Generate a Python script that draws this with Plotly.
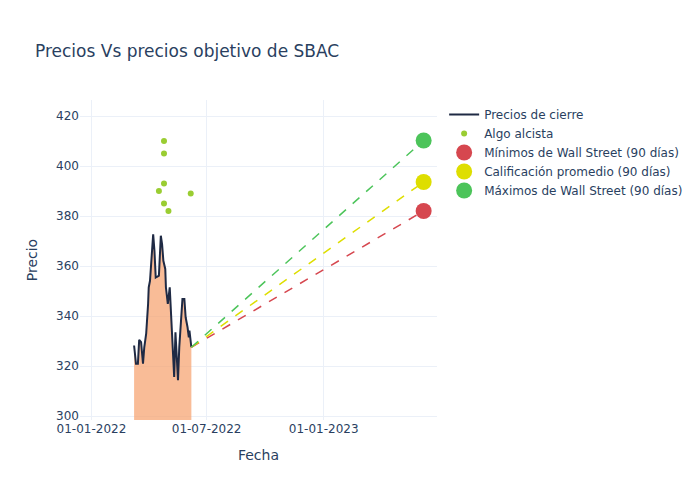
import plotly.graph_objects as go

# precios de cierre
close_dates = [
    "2022-03-09", "2022-03-12", "2022-03-15", "2022-03-17", "2022-03-20",
    "2022-03-23", "2022-03-25", "2022-03-28", "2022-03-31", "2022-04-01",
    "2022-04-03", "2022-04-06", "2022-04-08", "2022-04-10", "2022-04-12",
    "2022-04-14", "2022-04-17", "2022-04-20", "2022-04-22", "2022-04-24",
    "2022-04-27", "2022-04-28", "2022-05-01", "2022-05-04", "2022-05-06",
    "2022-05-09", "2022-05-11", "2022-05-13", "2022-05-15", "2022-05-17",
    "2022-05-19", "2022-05-22", "2022-05-24", "2022-05-27", "2022-05-29",
    "2022-06-01", "2022-06-03", "2022-06-04", "2022-06-06", "2022-06-07",
]
close_prices = [
    328.2, 320.9, 320.9, 330.5, 329.5,
    320.9, 327.5, 332.9, 344.8, 351.5,
    354.1, 367.4, 372.7, 366.1, 355.4,
    355.7, 356.1, 372.1, 368.7, 362.1,
    358.8, 351.5, 344.8, 351.5, 339.5,
    327.5, 315.6, 333.5, 324.9, 314.3,
    327.5, 338.2, 346.8, 346.8, 339.5,
    335.5, 331.5, 334.2, 327.5, 327.5,
]

# recomendaciones "Algo alcista"
bull_dates = ["2022-04-25", "2022-04-25", "2022-04-25", "2022-04-17",
              "2022-06-06", "2022-04-25", "2022-05-02"]
bull_prices = [410, 405, 393, 390, 389, 385, 382]

# precios objetivo a 90 dias
target_date = "2023-06-07"
target_names = ["Mínimos de Wall Street (90 días)",
                "Calificación promedio (90 días)",
                "Máximos de Wall Street (90 días)"]
target_prices = [382.0, 393.6, 410.2]
target_colors = ["#d6474f", "#dede00", "#4cc45a"]

last_date = close_dates[-1]
last_price = close_prices[-1]

fig = go.Figure()

# relleno bajo la curva (sin leyenda)
fig.add_scatter(
    x=close_dates, y=close_prices, mode="lines", showlegend=False,
    line={"width": 0}, fill="tozeroy", fillcolor="rgba(247,160,107,0.7)",
    hoverinfo="skip",
)
fig.add_scatter(
    x=close_dates, y=close_prices, name="Precios de cierre", mode="lines",
    line={"color": "#1f2a44", "width": 2},
)
fig.add_scatter(
    x=bull_dates, y=bull_prices, name="Algo alcista", mode="markers",
    marker={"color": "#9acd32", "size": 6},
)

for name, price, color in zip(target_names, target_prices, target_colors):
    fig.add_scatter(
        x=[last_date, target_date], y=[last_price, price], mode="lines",
        line={"color": color, "width": 1.5, "dash": "dash"}, showlegend=False,
    )
for name, price, color in zip(target_names, target_prices, target_colors):
    fig.add_scatter(
        x=[target_date], y=[price], name=name, mode="markers",
        marker={"color": color, "size": 16},
    )

fig.update_layout(
    template="plotly_white",
    width=692,
    height=492,
    margin={"l": 72, "t": 92, "b": 80},
    font={"family": "DejaVu Sans"},
    title={"text": "Precios Vs precios objetivo de SBAC",
           "x": 27 / 692, "xanchor": "left",
           "y": 1 - 43 / 492, "yanchor": "middle"},
    xaxis={"title": {"text": "Fecha"}, "tickformat": "%d-%m-%Y",
           "range": ["2021-12-14", "2023-06-28"], "dtick": "M6"},
    yaxis={"title": {"text": "Precio"}, "range": [298.4, 426.4]},
)

fig.write_html("out.html")
